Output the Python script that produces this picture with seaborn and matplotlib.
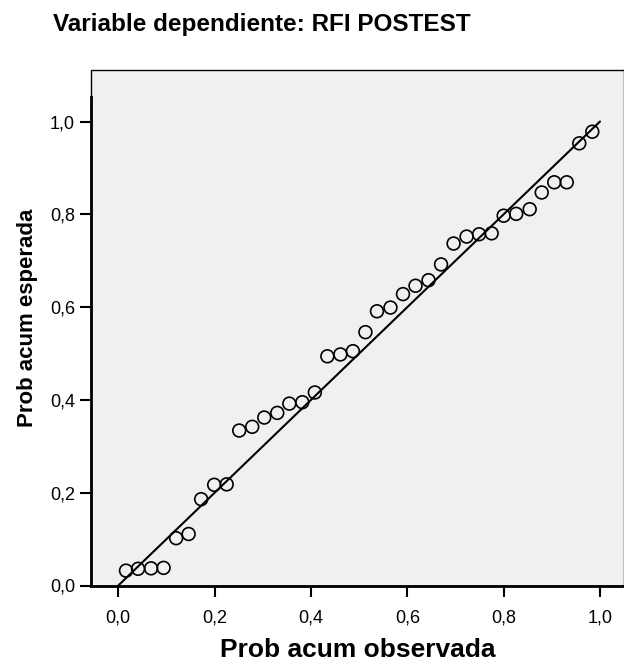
import matplotlib
matplotlib.use("Agg")
import matplotlib.pyplot as plt
import seaborn as sns
import pandas as pd
from matplotlib.patches import Rectangle

prob_observed = [0.016, 0.041, 0.068, 0.094, 0.120, 0.146, 0.172, 0.199, 0.225, 0.251,
                 0.278, 0.303, 0.330, 0.355, 0.382, 0.408, 0.434, 0.461, 0.487, 0.513,
                 0.537, 0.565, 0.591, 0.617, 0.644, 0.670, 0.696, 0.723, 0.749, 0.775,
                 0.800, 0.826, 0.854, 0.879, 0.905, 0.931, 0.957, 0.984]
prob_expected = [0.032, 0.036, 0.037, 0.038, 0.102, 0.111, 0.186, 0.217, 0.218, 0.334,
                 0.342, 0.362, 0.372, 0.392, 0.395, 0.416, 0.494, 0.498, 0.505, 0.546,
                 0.591, 0.599, 0.628, 0.646, 0.658, 0.692, 0.737, 0.752, 0.757, 0.759,
                 0.797, 0.801, 0.811, 0.847, 0.869, 0.869, 0.953, 0.978]
ref_x = [0.0, 1.0]
ref_y = [0.0, 1.0]
tick_values = [0.0, 0.2, 0.4, 0.6, 0.8, 1.0]
tick_labels = ["0,0", "0,2", "0,4", "0,6", "0,8", "1,0"]

title = "Variable dependiente: RFI POSTEST"
xlabel = "Prob acum observada"
ylabel = "Prob acum esperada"

sns.set_style("white")
plt.rcParams["font.family"] = ["Liberation Sans", "DejaVu Sans"]
plt.rcParams["text.color"] = "black"
plt.rcParams["axes.labelcolor"] = "black"

df = pd.DataFrame({"obs": prob_observed, "exp": prob_expected})

fig = plt.figure(figsize=(6.24, 6.65), dpi=100)
ax = fig.add_axes([91 / 624, 79.5 / 665, 533 / 624, 515.5 / 665])
ax.set_facecolor("#f0f0f0")

sns.lineplot(x=ref_x, y=ref_y, ax=ax, color="black", linewidth=1.5, zorder=2)
sns.scatterplot(data=df, x="obs", y="exp", ax=ax, marker="o", s=85,
                facecolor="none", edgecolor="black", linewidth=1.2, zorder=3)

ax.set_xlim(-0.0567, 1.0498)
ax.set_ylim(0, 1.111)
ax.set_xticks(tick_values)
ax.set_xticklabels(tick_labels)
ax.set_yticks(tick_values)
ax.set_yticklabels(tick_labels)
ax.tick_params(axis="both", direction="out", length=8, width=1.5, labelsize=13,
               colors="black", bottom=True, left=True)
ax.tick_params(axis="x", pad=9)
ax.tick_params(axis="y", pad=3.5)

# thin frame round the plot area, heavier axis lines
ax.add_patch(Rectangle((0, 0), 1, 1, transform=ax.transAxes, fill=False,
                       edgecolor="black", linewidth=1.0, clip_on=False, zorder=1))
for side in ["top", "right"]:
    ax.spines[side].set_visible(False)
for side in ["left", "bottom"]:
    ax.spines[side].set_color("black")
    ax.spines[side].set_linewidth(2)
ax.spines["left"].set_bounds(0, 1.053)

ax.set_xlabel(xlabel, fontsize=19, fontweight="bold", color="black")
ax.set_ylabel(ylabel, fontsize=16, fontweight="bold", color="black")
ax.xaxis.set_label_coords(0.5, -0.125)
ax.xaxis.label.set_va("center")
ax.yaxis.set_label_coords(-0.12, 0.52)
ax.yaxis.label.set_va("center")

fig.text(53 / 624, 0.953, title, fontsize=17.5, fontweight="bold", ha="left",
         va="baseline", color="black")

fig.savefig("out.png", dpi=100)
